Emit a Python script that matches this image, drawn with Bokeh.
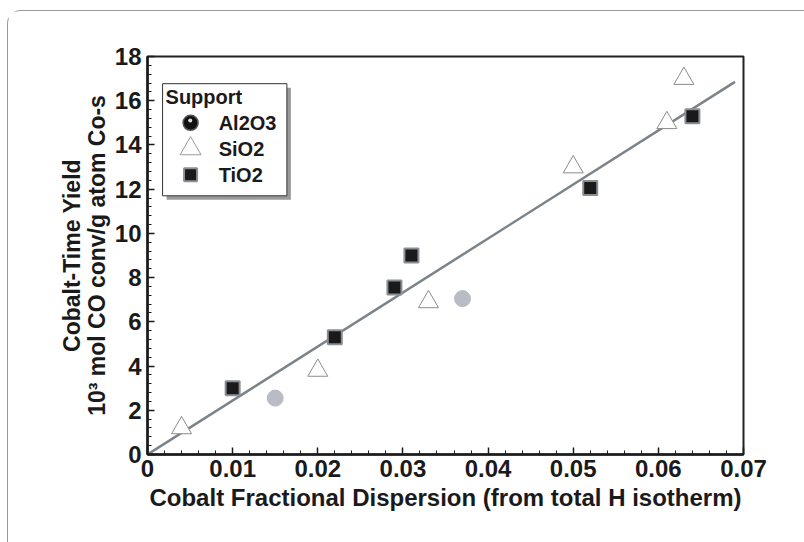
from bokeh.plotting import figure
from bokeh.models import (LinearAxis, SingleIntervalTicker, FixedTicker, Range1d,
                          CustomJSTickFormatter)
from bokeh.core.properties import value
from bokeh.embed import file_html
from bokeh.resources import INLINE

# ---- data ----
al2o3_x = [0.015, 0.037]
al2o3_y = [2.55, 7.05]
sio2_x = [0.004, 0.020, 0.033, 0.050, 0.061, 0.063]
sio2_y = [1.2, 3.8, 6.9, 13.0, 15.0, 17.0]
tio2_x = [0.010, 0.022, 0.029, 0.031, 0.052, 0.064]
tio2_y = [3.0, 5.3, 7.55, 9.0, 12.05, 15.3]
fit_x = [0.0, 0.069]
fit_y = [0.0, 16.85]
legend_title = "Support"
legend_labels = ["Al2O3", "SiO2", "TiO2"]

FONT = "Liberation Sans"
INK = "#1a1a1a"

p = figure(width=797, height=532, output_backend="svg", toolbar_location=None,
           x_range=Range1d(0, 0.07), y_range=Range1d(0, 18),
           min_border_left=139, min_border_right=62, min_border_top=45, min_border_bottom=89,
           background_fill_color="white", border_fill_color="white")
p.margin = (10, 0, 0, 7)
p.styles = {"border-left": "1px solid #9a9a9a", "border-top": "1px solid #9a9a9a",
            "border-top-left-radius": "14px"}
p.grid.visible = False
p.outline_line_color = "#222222"
p.outline_line_width = 2

# axes
xa = p.xaxis[0]
xa.ticker = SingleIntervalTicker(interval=0.01, num_minor_ticks=5)
xa.formatter = CustomJSTickFormatter(code="return Math.abs(tick) < 1e-9 ? '0' : tick.toFixed(2);")
xa.axis_label = "Cobalt Fractional Dispersion (from total H isotherm)"
ya = p.yaxis[0]
ya.ticker = SingleIntervalTicker(interval=2, num_minor_ticks=5)
ya.axis_label = "10³ mol CO conv/g atom Co-s"

for ax in (xa, ya):
    ax.axis_line_width = 2.5
    ax.axis_line_color = INK
    ax.major_tick_in = 7
    ax.major_tick_out = 0
    ax.minor_tick_in = 4
    ax.minor_tick_out = 0
    ax.major_tick_line_width = 1.5
    ax.minor_tick_line_width = 1
    ax.major_tick_line_color = INK
    ax.minor_tick_line_color = INK
    ax.major_label_text_font = FONT
    ax.major_label_text_font_style = "bold"
    ax.major_label_text_font_size = "24px"
    ax.major_label_text_color = INK
    ax.axis_label_text_font = FONT
    ax.axis_label_text_font_style = "bold"
    ax.axis_label_text_font_size = "23px"
    ax.axis_label_text_color = INK
xa.axis_label_text_font_size = "24px"
xa.major_label_standoff = 5
xa.axis_label_standoff = 4
ya.major_label_standoff = 6
ya.axis_label_standoff = 2

ya2 = LinearAxis(ticker=FixedTicker(ticks=[]), axis_label="Cobalt-Time Yield",
                 axis_line_color=None, major_tick_line_color=None, minor_tick_line_color=None,
                 axis_label_text_font=FONT, axis_label_text_font_style="bold",
                 axis_label_text_font_size="23px", axis_label_text_color=INK,
                 axis_label_standoff=-4)
p.add_layout(ya2, "left")

# fit line
p.line(fit_x, fit_y, line_color="#7b8388", line_width=2.5)

# data
p.scatter(al2o3_x, al2o3_y, marker="circle", size=16,
          fill_color="#b9bcc4", line_color="#b9bcc4")
p.scatter(sio2_x, sio2_y, marker="triangle", size=20,
          fill_color="white", line_color="#8c8c8c", line_width=1)
p.scatter(tio2_x, tio2_y, marker="square", size=14,
          fill_color=INK, line_color="#8a8f96", line_width=2)

# ---- legend drawn in data space ----
p.quad(left=[0.00224], right=[0.01684], top=[16.59], bottom=[11.52],
       fill_color="#9a9a9a", line_color=None)
p.quad(left=[0.00177], right=[0.01637], top=[16.77], bottom=[11.70],
       fill_color="white", line_color="#333333", line_width=1)
p.text(x=[0.00212], y=[16.18], text=[legend_title], text_font=value(FONT),
       text_font_style="bold", text_font_size="20px", text_color=INK,
       text_baseline="middle", text_align="left")
leg_mx = [0.00506] * 3
leg_my = [15.0, 13.83, 12.65]
p.scatter([leg_mx[0]], [leg_my[0]], marker="circle", size=15, fill_color="#111111",
          line_color="#555555", line_width=1.5)
p.scatter([leg_mx[0] - 0.00004], [leg_my[0] + 0.1], marker="circle", size=4,
          fill_color="#dddddd", line_color=None)
p.scatter([leg_mx[1]], [leg_my[1]], marker="triangle", size=21, fill_color="white",
          line_color="#9a9a9a", line_width=1)
p.scatter([leg_mx[2]], [leg_my[2]], marker="square", size=13, fill_color=INK,
          line_color="#8a8f96", line_width=2)
p.text(x=[0.00836] * 3, y=leg_my, text=legend_labels, text_font=value(FONT),
       text_font_style="bold", text_font_size="20px", text_color=INK,
       text_baseline="middle", text_align="left")

open("out.html", "w").write(file_html(p, INLINE))
